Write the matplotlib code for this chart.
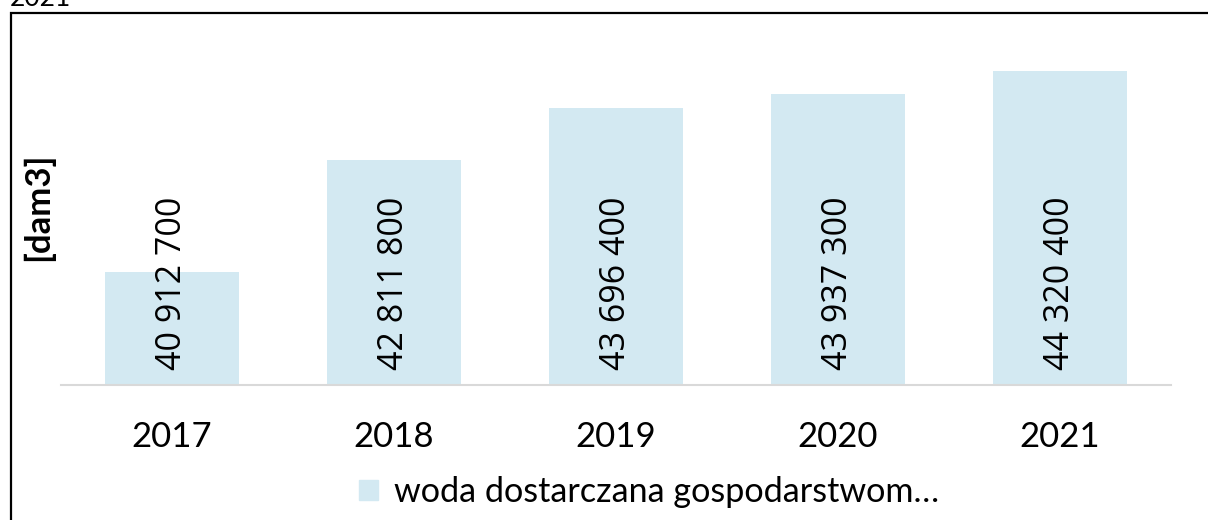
import numpy as np
import matplotlib.pyplot as plt
from matplotlib.patches import Rectangle, Patch

# dane
lata = ["2017", "2018", "2019", "2020", "2021"]
woda = [40912700, 42811800, 43696400, 43937300, 44320400]
etykiety = ["40 912 700", "42 811 800", "43 696 400", "43 937 300", "44 320 400"]
seria = "woda dostarczana gospodarstwom…"

kolor = "#D3E9F2"
W, H = 1208, 520

fig = plt.figure(figsize=(W / 100, H / 100), dpi=100)
ax = fig.add_axes([61 / W, (H - 385) / H, (1171 - 61) / W, (385 - 31) / H])

x = np.arange(len(lata))
ax.bar(x, woda, width=0.604, color=kolor, zorder=2)
ax.set_xlim(-0.5, len(lata) - 0.5)
ax.set_ylim(39000000, 45000000)

# etykiety wartosci, obrocone
for xi, t in zip(x, etykiety):
    ax.text(xi, 0.042, t, transform=ax.get_xaxis_transform(), rotation=90,
            ha="center", va="bottom", fontsize=24.5, family="Open Sans", zorder=3)

for s in ["top", "right", "left"]:
    ax.spines[s].set_visible(False)
ax.spines["bottom"].set_color("#D9D9D9")
ax.spines["bottom"].set_linewidth(1.5)
ax.set_yticks([])
ax.set_xticks(x)
ax.set_xticklabels(lata, fontsize=25, family="Lato")
ax.tick_params(axis="x", length=0, pad=26)

fig.text(38 / W, 1 - 207 / H, "[dam3]", rotation=90, ha="center", va="center",
         fontsize=25, fontweight="bold", family="Lato")

fig.legend(handles=[Patch(color=kolor, label=seria)], loc="center",
           bbox_to_anchor=(649 / W, 1 - 492 / H), frameon=False,
           prop={"family": "Lato", "size": 24.6}, handlelength=0.55,
           handleheight=0.55, handletextpad=0.45)

fig.text(10 / W, 1 - 6 / H, "2021", ha="left", va="baseline", fontsize=19,
         family="Lato")

# ramka (wspolrzedne ekranu od dolu)
fig.patches.append(Rectangle((11, -100), 1300, H - 13 + 100, transform=None,
                             fill=False, edgecolor="black", linewidth=1.6,
                             figure=fig))

fig.savefig("out.png", dpi=100)
